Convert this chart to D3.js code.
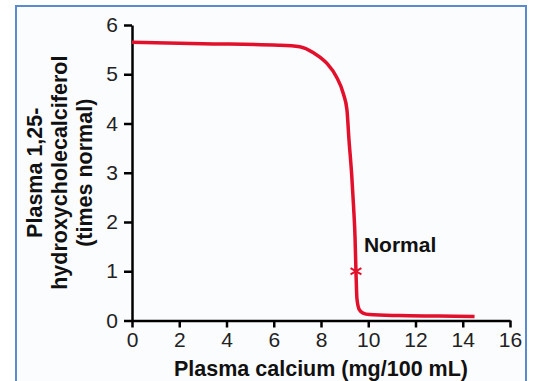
<!DOCTYPE html>
<html>
<head>
<meta charset="utf-8">
<script src="https://cdn.jsdelivr.net/npm/d3@7"></script>
<style>
  body { margin: 0; background: #fff; }
  text { font-family: "Liberation Sans", Arial, sans-serif; }
</style>
</head>
<body>
<svg width="533" height="381"></svg>
<script>
// curve values
var calcium = [0, 3, 6.2, 7.1, 7.7, 8.25, 8.65, 8.95, 9.1, 9.18, 9.3, 9.38, 9.44, 9.48, 9.52, 9.62, 9.78, 10.05, 11.3, 13, 14.5];
var vitD    = [5.65, 5.62, 5.59, 5.56, 5.43, 5.22, 4.95, 4.6, 4.27, 3.7, 2.95, 2.3, 1.7, 1.0, 0.45, 0.22, 0.15, 0.12, 0.1, 0.09, 0.08];
var normalPoint = [9.48, 1.0];
var xTicks = [0, 2, 4, 6, 8, 10, 12, 14, 16];
var yTicks = [0, 1, 2, 3, 4, 5, 6];
var yTitle = ["Plasma 1,25-", "hydroxycholecalciferol", "(times normal)"];

var svg = d3.select("svg");

// panel frame
svg.append("rect")
    .attr("x", 16).attr("y", 6)
    .attr("width", 510).attr("height", 390)
    .attr("fill", "#fbfcfe")
    .attr("stroke", "#5a8ad0")
    .attr("stroke-width", 2);

var x = d3.scaleLinear().domain([0, 16]).range([132, 510]);
var y = d3.scaleLinear().domain([0, 6]).range([320.5, 25]);

var xAxis = svg.append("g")
    .attr("transform", "translate(0," + y(0) + ")")
    .call(d3.axisBottom(x).tickValues(xTicks).tickFormat(d3.format("d"))
      .tickSize(7).tickPadding(5).tickSizeOuter(0));

var yAxis = svg.append("g")
    .attr("transform", "translate(" + x(0) + ",0)")
    .call(d3.axisLeft(y).tickValues(yTicks).tickFormat(d3.format("d"))
      .tickSize(8).tickPadding(6).tickSizeOuter(0));

[xAxis, yAxis].forEach(function(g) {
  g.attr("font-size", 21).attr("font-family", "'Liberation Sans', Arial, sans-serif");
  g.select(".domain").attr("stroke", "#000").attr("stroke-width", 2.5);
  g.selectAll(".tick line").attr("stroke", "#000").attr("stroke-width", 2.5);
  g.selectAll(".tick text").attr("fill", "#222");
});

// curve
var pts = calcium.map(function(c, i) { return [c, vitD[i]]; });
var line = d3.line()
    .x(function(d) { return x(d[0]); })
    .y(function(d) { return y(d[1]); })
    .curve(d3.curveMonotoneX);

svg.append("path")
    .datum(pts)
    .attr("d", line)
    .attr("fill", "none")
    .attr("stroke", "#e3102c")
    .attr("stroke-width", 3.5);

// normal marker
svg.append("path")
    .attr("d", d3.symbol().type(d3.symbolAsterisk).size(110)())
    .attr("transform", "translate(" + x(normalPoint[0]) + "," + y(normalPoint[1]) + ")")
    .attr("fill", "none")
    .attr("stroke", "#e3102c")
    .attr("stroke-width", 2);

svg.append("text")
    .attr("x", x(normalPoint[0]) + 8)
    .attr("y", 252)
    .attr("font-size", 21)
    .attr("font-weight", "bold")
    .attr("fill", "#111")
    .text("Normal");

// axis titles
svg.append("text")
    .attr("x", (x(0) + x(16)) / 2)
    .attr("y", 376)
    .attr("text-anchor", "middle")
    .attr("font-size", 21.5)
    .attr("font-weight", "bold")
    .attr("fill", "#111")
    .text("Plasma calcium (mg/100 mL)");

var yt = svg.append("text")
    .attr("transform", "translate(42," + (y(0) + y(6)) / 2 + ") rotate(-90)")
    .attr("text-anchor", "middle")
    .attr("font-size", 21.5)
    .attr("font-weight", "bold")
    .attr("fill", "#111");

yt.selectAll("tspan")
    .data(yTitle)
    .enter().append("tspan")
    .attr("x", 0)
    .attr("dy", function(d, i) { return i === 0 ? 0 : 25; })
    .text(function(d) { return d; });
</script>
</body>
</html>
